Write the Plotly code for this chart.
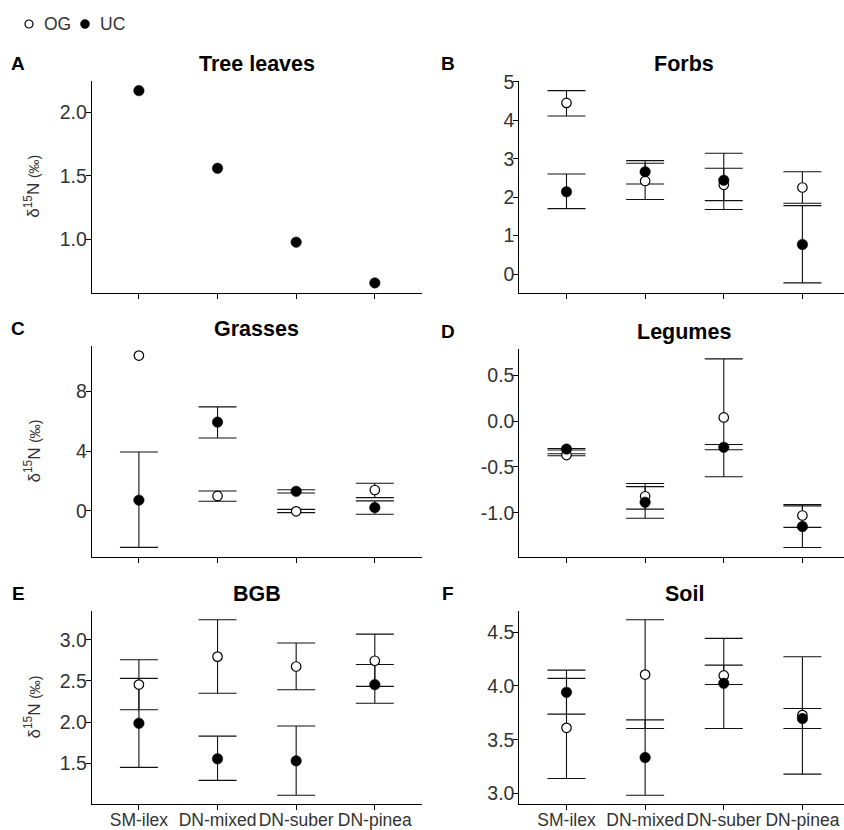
import plotly.graph_objects as go

# ---- data -------------------------------------------------------------
categories = ["SM-ilex", "DN-mixed", "DN-suber", "DN-pinea"]
groups = ["OG", "UC"]

# Tree leaves (UC only, no error bars)
tree_uc = [2.17, 1.56, 0.98, 0.66]

# Forbs
forbs_og = [4.45, 2.42, 2.32, 2.25]
forbs_og_lo = [4.11, 1.94, 1.91, 1.84]
forbs_og_hi = [4.77, 2.88, 2.75, 2.66]
forbs_uc = [2.14, 2.66, 2.44, 0.77]
forbs_uc_lo = [1.70, 2.34, 1.68, -0.23]
forbs_uc_hi = [2.60, 2.95, 3.14, 1.78]

# Grasses
grass_og = [10.41, 1.00, -0.03, 1.40]
grass_og_lo = [None, 0.64, -0.12, 0.89]
grass_og_hi = [None, 1.33, 0.10, 1.85]
grass_uc = [0.72, 5.95, 1.31, 0.22]
grass_uc_lo = [-2.45, 4.89, 1.20, -0.23]
grass_uc_hi = [3.95, 6.97, 1.42, 0.67]

# Legumes
leg_og = [-0.37, -0.82, 0.04, -1.03]
leg_og_lo = [-0.378, -0.96, -0.607, -1.16]
leg_og_hi = [-0.356, -0.68, 0.68, -0.91]
leg_uc = [-0.305, -0.885, -0.285, -1.15]
leg_uc_lo = [-0.315, -1.06, -0.313, -1.38]
leg_uc_hi = [-0.298, -0.715, -0.255, -0.925]

# Below-ground biomass
bgb_og = [2.455, 2.795, 2.675, 2.745]
bgb_og_lo = [2.15, 2.35, 2.393, 2.433]
bgb_og_hi = [2.757, 3.243, 2.96, 3.068]
bgb_uc = [1.985, 1.553, 1.528, 2.455]
bgb_uc_lo = [1.448, 1.29, 1.11, 2.228]
bgb_uc_hi = [2.53, 1.828, 1.952, 2.70]

# Soil
soil_og = [3.61, 4.105, 4.097, 3.728]
soil_og_lo = [3.139, 3.604, 4.012, 3.18]
soil_og_hi = [4.07, 4.614, 4.193, 4.27]
soil_uc = [3.94, 3.335, 4.024, 3.697]
soil_uc_lo = [3.737, 2.984, 3.604, 3.604]
soil_uc_hi = [4.146, 3.684, 4.441, 3.79]

# y tick values per panel
ticks_a = [1.0, 1.5, 2.0]
ticks_b = [0, 1, 2, 3, 4, 5]
ticks_c = [0, 4, 8]
ticks_d = [-1.0, -0.5, 0.0, 0.5]
ticks_e = [1.5, 2.0, 2.5, 3.0]
ticks_f = [3.0, 3.5, 4.0, 4.5]

# ---- layout geometry (pixels) ----------------------------------------
W, H = 844, 830
FONT = "Liberation Sans, Arial, sans-serif"
TXT = "#333333"

LEFT_X = (91.7, 422.0)
RIGHT_X = (519.3, 844.0)
PX_PER_CAT = 330.3 / 4.2

panels = [
    ("A", "Tree leaves", None, None, None, tree_uc, None, None, ticks_a, "{:.1f}", LEFT_X, (81.0, 292.5), False),
    ("B", "Forbs", forbs_og, forbs_og_lo, forbs_og_hi, forbs_uc, forbs_uc_lo, forbs_uc_hi, ticks_b, "{:d}", RIGHT_X, (81.0, 292.5), False),
    ("C", "Grasses", grass_og, grass_og_lo, grass_og_hi, grass_uc, grass_uc_lo, grass_uc_hi, ticks_c, "{:d}", LEFT_X, (346.0, 557.0), False),
    ("D", "Legumes", leg_og, leg_og_lo, leg_og_hi, leg_uc, leg_uc_lo, leg_uc_hi, ticks_d, "{:.1f}", RIGHT_X, (349.4, 557.0), False),
    ("E", "BGB", bgb_og, bgb_og_lo, bgb_og_hi, bgb_uc, bgb_uc_lo, bgb_uc_hi, ticks_e, "{:.1f}", LEFT_X, (611.0, 804.0), True),
    ("F", "Soil", soil_og, soil_og_lo, soil_og_hi, soil_uc, soil_uc_lo, soil_uc_hi, ticks_f, "{:.1f}", RIGHT_X, (611.0, 804.0), True),
]

OG_MARKER = dict(symbol="circle", size=9.5, color="white", line=dict(color="black", width=1.2))
UC_MARKER = dict(symbol="circle", size=10.5, color="black", line=dict(color="black", width=0.5))

xpos = [1, 2, 3, 4]
fig = go.Figure()
layout = {}
annotations = []


def err_trace(xs, mean, lo, hi, xa, ya):
    keep = [i for i in range(len(mean)) if lo is not None and lo[i] is not None]
    if not keep:
        return None
    return go.Scatter(
        x=[xs[i] for i in keep], y=[mean[i] for i in keep],
        mode="markers", marker=dict(size=1, opacity=0),
        error_y=dict(type="data", symmetric=False,
                     array=[hi[i] - mean[i] for i in keep],
                     arrayminus=[mean[i] - lo[i] for i in keep],
                     width=19, thickness=1.1, color="#111111"),
        xaxis=xa, yaxis=ya, showlegend=False, hoverinfo="skip")


for k, (letter, title, og, og_lo, og_hi, uc, uc_lo, uc_hi, yt, fmt, xd, yd, bottom) in enumerate(panels):
    n = k + 1
    xa, ya = f"x{n}", f"y{n}"

    # y range: data extent with 5% padding on each side
    vals = [v for arr in (og, og_lo, og_hi, uc, uc_lo, uc_hi) if arr for v in arr if v is not None]
    lo_v, hi_v = min(vals), max(vals)
    pad = 0.05 * (hi_v - lo_v)

    layout[f"xaxis{n}"] = dict(
        domain=[xd[0] / W, xd[1] / W], range=[0.4, 0.4 + (xd[1] - xd[0]) / PX_PER_CAT], anchor=ya,
        tickvals=xpos, ticktext=categories, showticklabels=bottom, tickangle=0,
        ticks="outside", ticklen=5, tickwidth=1, tickcolor="black",
        showline=True, linecolor="black", linewidth=1,
        showgrid=False, zeroline=False, automargin=False, ticklabelstandoff=-5,
        tickfont=dict(family=FONT, size=17.5, color=TXT))
    layout[f"yaxis{n}"] = dict(
        domain=[1 - yd[1] / H, 1 - yd[0] / H], range=[lo_v - pad, hi_v + pad], anchor=xa,
        tickvals=yt, ticktext=[fmt.format(v) for v in yt],
        ticks="outside", ticklen=5, tickwidth=1, tickcolor="black",
        showline=True, linecolor="black", linewidth=1,
        showgrid=False, zeroline=False, automargin=False, ticklabelstandoff=-5,
        tickfont=dict(family=FONT, size=19.5, color=TXT))

    # error bars first, points on top
    for mean, lo, hi in ((og, og_lo, og_hi), (uc, uc_lo, uc_hi)):
        if mean is None:
            continue
        t = err_trace(xpos, mean, lo, hi, xa, ya)
        if t is not None:
            fig.add_trace(t)

    if og is not None:
        fig.add_trace(go.Scatter(x=xpos, y=og, mode="markers", name="OG", showlegend=False,
                                 marker=OG_MARKER, xaxis=xa, yaxis=ya))
    fig.add_trace(go.Scatter(x=xpos, y=uc, mode="markers", name="UC", showlegend=False,
                             marker=UC_MARKER, xaxis=xa, yaxis=ya))

    # panel tag and title
    left = xd[0] < 200
    annotations.append(dict(
        text=f"<b>{letter}</b>", x=(18 if left else 448) / W, y=1 - (yd[0] - 18) / H,
        xref="paper", yref="paper", showarrow=False, xanchor="center", yanchor="middle",
        font=dict(family=FONT, size=19, color="black")))
    annotations.append(dict(
        text=f"<b>{title}</b>", x=(xd[0] + 330.3 / 2) / W, y=1 - (yd[0] - 17) / H,
        xref="paper", yref="paper", showarrow=False, xanchor="center", yanchor="middle",
        font=dict(family=FONT, size=21.5, color="black")))
    if left:
        annotations.append(dict(
            text="δ<sup>15</sup>N <span style='font-size:14px'>(‰)</span>",
            x=32 / W, y=1 - (yd[0] + yd[1]) / 2 / H, textangle=-90,
            xref="paper", yref="paper", showarrow=False,
            xanchor="center", yanchor="middle",
            font=dict(family=FONT, size=17, color=TXT)))

# ---- key for the two groups, drawn on a hidden strip axis (pixel units) ----
key_x = [29, 85]
key_y = [24, 24]
layout["xaxis7"] = dict(domain=[0, 1], range=[0, W], visible=False, anchor="y7", automargin=False)
layout["yaxis7"] = dict(domain=[1 - 48 / H, 1], range=[48, 0], visible=False, anchor="x7", automargin=False)
fig.add_trace(go.Scatter(x=[key_x[0]], y=[key_y[0]], mode="markers", name=groups[0],
                         marker=dict(OG_MARKER, size=8), xaxis="x7", yaxis="y7",
                         showlegend=False, hoverinfo="skip"))
fig.add_trace(go.Scatter(x=[key_x[1]], y=[key_y[1]], mode="markers", name=groups[1],
                         marker=dict(UC_MARKER, size=9), xaxis="x7", yaxis="y7",
                         showlegend=False, hoverinfo="skip"))
for gx, g in zip(key_x, groups):
    annotations.append(dict(
        text=g, x=gx + 13, y=key_y[0], xref="x7", yref="y7", showarrow=False,
        xanchor="left", yanchor="middle", font=dict(family=FONT, size=17.5, color=TXT)))

layout.update(
    width=W, height=H,
    margin=dict(l=0, r=0, t=0, b=0, autoexpand=False),
    paper_bgcolor="white", plot_bgcolor="white",
    showlegend=False,
    annotations=annotations,
    font=dict(family=FONT, color=TXT),
)
fig.update_layout(**layout)
fig.write_html("out.html")
